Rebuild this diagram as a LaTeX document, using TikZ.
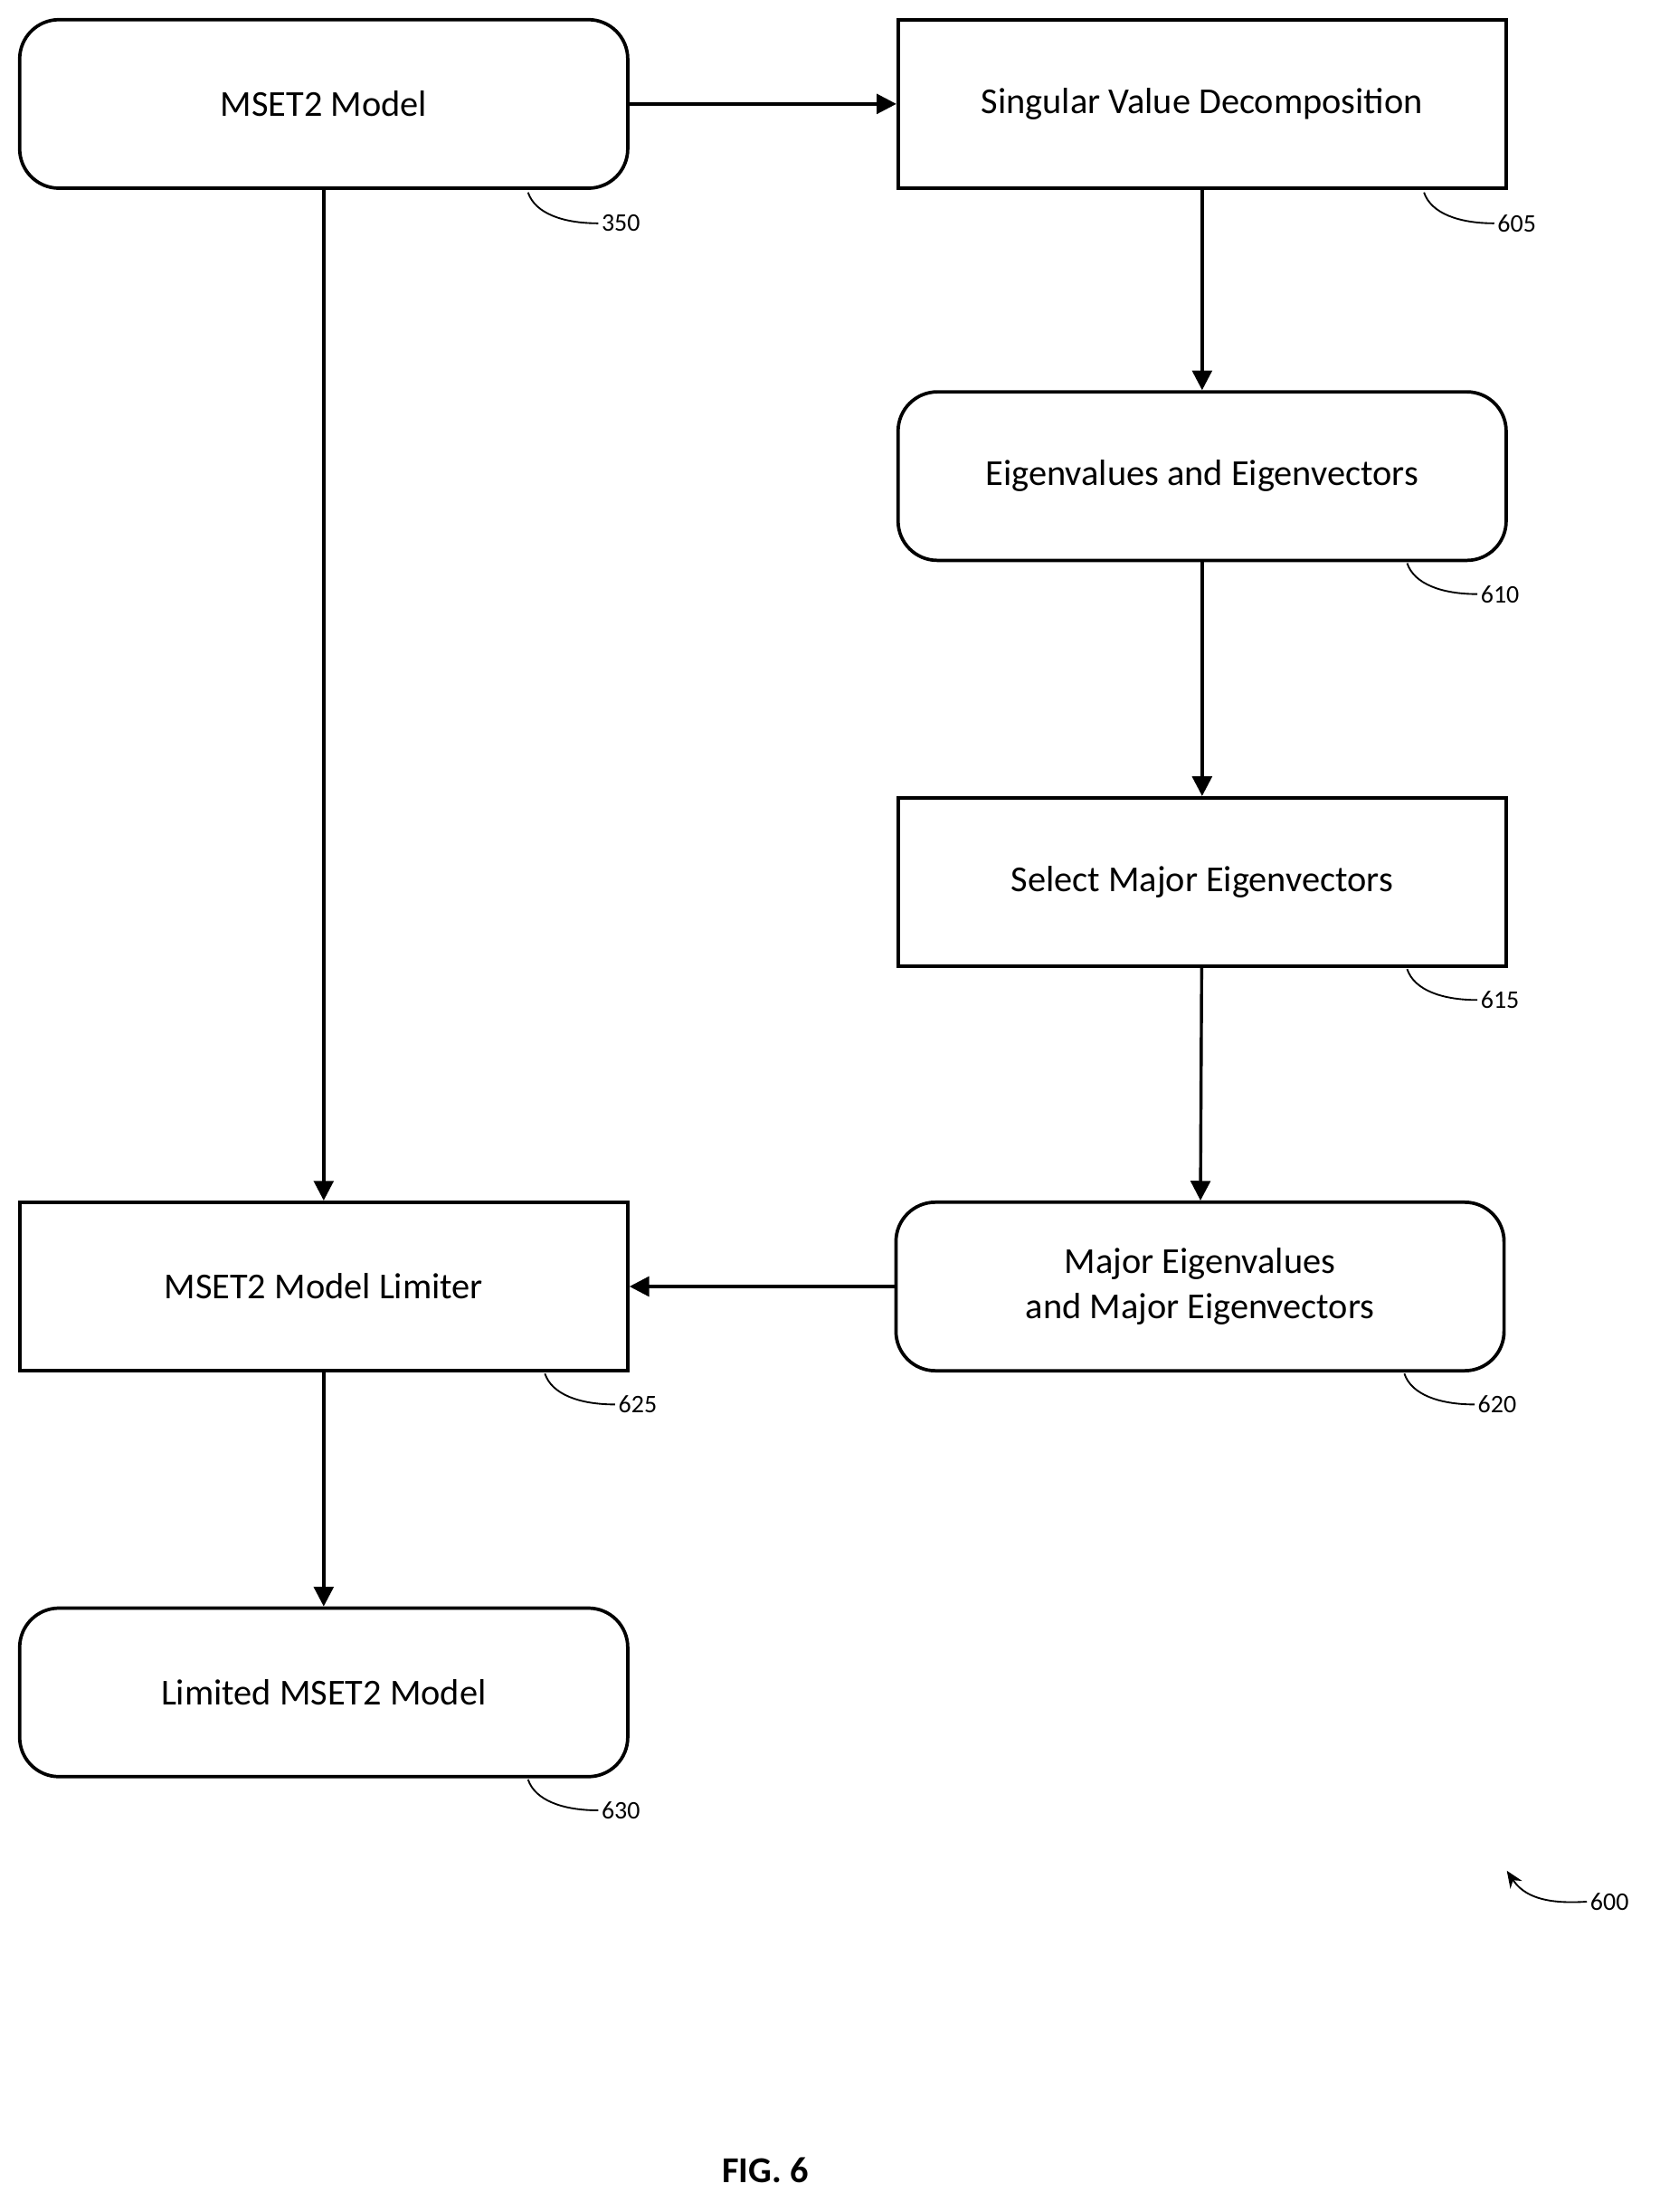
\documentclass[tikz,border=0pt]{standalone}
\usepackage{fontspec}
\setmainfont{Carlito}
\usetikzlibrary{arrows.meta}
\begin{document}
\begin{tikzpicture}[x=0.5pt,y=-0.5pt,
  box/.style={draw,line width=1.2pt,minimum width=216.5pt,minimum height=60pt,inner sep=0pt,font=\fontsize{13}{16}\selectfont,align=center},
  rbox/.style={box,rounded corners=14pt},
  arr/.style={line width=1.1pt,-{Triangle[length=7pt,width=7pt]}},
  lead/.style={line width=0.6pt},
  num/.style={font=\fontsize{9}{11}\selectfont,anchor=west,inner sep=1pt}]
\useasboundingbox (0,0) rectangle (1182,1575);
\node[rbox] (m) at (230.5,74) {MSET2 Model};
\node[box] (svd) at (856,74) {Singular Value Decomposition};
\node[rbox] (eig) at (856,339) {Eigenvalues and Eigenvectors};
\node[box] (sel) at (856,628) {Select Major Eigenvectors};
\node[rbox] (maj) at (854.5,916) {Major Eigenvalues\\and Major Eigenvectors};
\node[box] (lim) at (230.5,916) {MSET2 Model Limiter};
\node[rbox] (lm) at (230.5,1205) {Limited MSET2 Model};
\draw[arr] (m) -- (svd);
\draw[arr] (svd) -- (eig);
\draw[arr] (eig) -- (sel);
\draw[arr] (sel) -- (maj);
\draw[arr] (maj) -- (lim);
\draw[arr] (m) -- (lim);
\draw[arr] (lim) -- (lm);
\foreach \n/\x/\y/\t in {a/376/137/350, b/1014/137/605, c/1002/401/610, d/1002/690/615, e/1000/978/620, f/388/978/625, g/376/1267/630}{
  \coordinate (s\n) at (\x,\y);
  \node[num] (l\n) at (\x+50,\y+22) {\t};
  \draw[lead] (s\n) .. controls (\x+5,\y+15) and (\x+25,\y+22) .. (l\n.west);
}
\coordinate (p600) at (1073,1332);
\node[num] (l600) at (1130,1354) {600};
\draw[lead,-{Stealth[length=6pt,width=5pt]}] (l600.west) .. controls (1100,1356) and (1085,1350) .. (p600);
\node[font=\bfseries\fontsize{13}{16}\selectfont] (fig) at (545,1545) {FIG. 6};
\end{tikzpicture}
\end{document}
